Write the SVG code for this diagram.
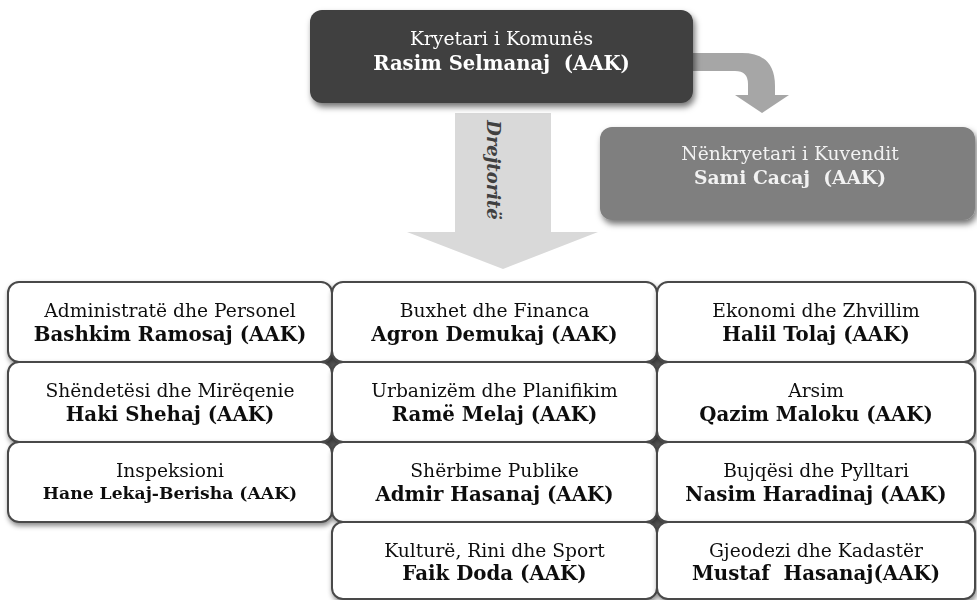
<svg xmlns="http://www.w3.org/2000/svg" width="977" height="600" viewBox="0 0 977 600">
<defs>
<filter id="sh" x="-10%" y="-20%" width="125%" height="150%">
<feDropShadow dx="2" dy="4" stdDeviation="3" flood-color="#000" flood-opacity="0.55"/>
</filter>
<filter id="sh2" x="-10%" y="-20%" width="125%" height="150%">
<feDropShadow dx="1" dy="3" stdDeviation="2.5" flood-color="#000" flood-opacity="0.45"/>
</filter>
</defs>
<style>
text{font-family:"DejaVu Serif","Liberation Serif",serif;text-anchor:middle;white-space:pre}
.r{font-size:18.7px;fill:#111}
.b{font-size:19.8px;font-weight:bold;fill:#111}
.bs{font-size:17.2px;font-weight:bold;fill:#111}
.cell{fill:#fff;stroke:#4a4a4a;stroke-width:2}
</style>
<g id="connectors">
<polygon id="arrow-down" points="455,113 551,113 551,232 598,232 503,269 407,232 455,232" fill="#d9d9d9"/>
<text x="0" y="0" transform="translate(487,170) rotate(90)" style="font-size:18px;font-weight:bold;font-style:italic;fill:#404040">Drejtoritë</text>
<path id="arrow-curve" d="M690,53 L742,53 Q775,53 775,86 L775,95 L789,95 L762,113 L735,95 L748,95 L748,84 Q748,71 735,71 L690,71 Z" fill="#a6a6a6"/>
</g>
<g id="kryetari" filter="url(#sh)">
<rect x="310" y="10" width="383" height="93" rx="12" fill="#404040"/>
<text class="r" x="501.5" y="45" style="fill:#fff">Kryetari i Komunës</text>
<text class="b" x="501.5" y="70" style="fill:#fff;font-size:19.6px">Rasim Selmanaj  (AAK)</text>
</g>
<g id="nenkryetari" filter="url(#sh)">
<rect x="600" y="127" width="375" height="93" rx="12" fill="#7f7f7f"/>
<text class="r" x="790" y="160" style="fill:#f2f2f2">Nënkryetari i Kuvendit</text>
<text class="b" x="790" y="184" style="fill:#f2f2f2;font-size:18.7px">Sami Cacaj  (AAK)</text>
</g>
<polygon id="grid-gaps" points="20,294 964,294 964,588 345,588 345,512 20,512" fill="#5a5a5a"/>
<g id="d1" filter="url(#sh2)"><rect class="cell" x="8" y="282" width="324" height="80" rx="11"/>
<text class="r" x="170" y="317">Administratë dhe Personel</text><text class="b" x="170" y="341">Bashkim Ramosaj (AAK)</text></g>
<g id="d2" filter="url(#sh2)"><rect class="cell" x="332" y="282" width="325" height="80" rx="11"/>
<text class="r" x="494.5" y="317">Buxhet dhe Financa</text><text class="b" x="494.5" y="341">Agron Demukaj (AAK)</text></g>
<g id="d3" filter="url(#sh2)"><rect class="cell" x="657" y="282" width="318" height="80" rx="11"/>
<text class="r" x="816" y="317">Ekonomi dhe Zhvillim</text><text class="b" x="816" y="341">Halil Tolaj (AAK)</text></g>
<g id="d4" filter="url(#sh2)"><rect class="cell" x="8" y="362" width="324" height="80" rx="11"/>
<text class="r" x="170" y="397">Shëndetësi dhe Mirëqenie</text><text class="b" x="170" y="421">Haki Shehaj (AAK)</text></g>
<g id="d5" filter="url(#sh2)"><rect class="cell" x="332" y="362" width="325" height="80" rx="11"/>
<text class="r" x="494.5" y="397">Urbanizëm dhe Planifikim</text><text class="b" x="494.5" y="421">Ramë Melaj (AAK)</text></g>
<g id="d6" filter="url(#sh2)"><rect class="cell" x="657" y="362" width="318" height="80" rx="11"/>
<text class="r" x="816" y="397">Arsim</text><text class="b" x="816" y="421">Qazim Maloku (AAK)</text></g>
<g id="d7" filter="url(#sh2)"><rect class="cell" x="8" y="442" width="324" height="80" rx="11"/>
<text class="r" x="170" y="477">Inspeksioni</text><text class="bs" x="170" y="499">Hane Lekaj-Berisha (AAK)</text></g>
<g id="d8" filter="url(#sh2)"><rect class="cell" x="332" y="442" width="325" height="80" rx="11"/>
<text class="r" x="494.5" y="477">Shërbime Publike</text><text class="b" x="494.5" y="501">Admir Hasanaj (AAK)</text></g>
<g id="d9" filter="url(#sh2)"><rect class="cell" x="657" y="442" width="318" height="80" rx="11"/>
<text class="r" x="816" y="477">Bujqësi dhe Pylltari</text><text class="b" x="816" y="501">Nasim Haradinaj (AAK)</text></g>
<g id="d10" filter="url(#sh2)"><rect class="cell" x="332" y="522" width="325" height="77" rx="11"/>
<text class="r" x="494.5" y="557">Kulturë, Rini dhe Sport</text><text class="b" x="494.5" y="580">Faik Doda (AAK)</text></g>
<g id="d11" filter="url(#sh2)"><rect class="cell" x="657" y="522" width="318" height="77" rx="11"/>
<text class="r" x="816" y="557">Gjeodezi dhe Kadastër</text><text class="b" x="816" y="580">Mustaf  Hasanaj(AAK)</text></g>
</svg>
